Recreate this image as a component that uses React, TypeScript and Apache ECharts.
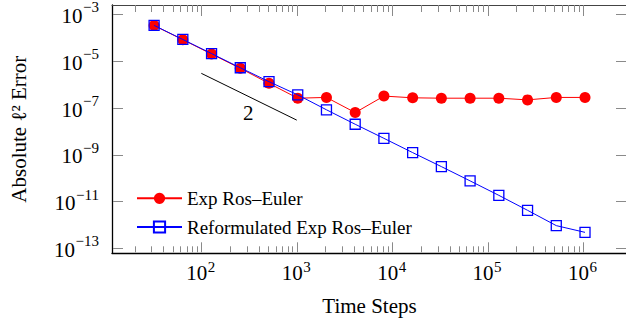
import React, { useEffect, useRef } from "react";
import * as echarts from "echarts";

// ---- data ----
const timeSteps = [32, 64, 128, 256, 512, 1024, 2048, 4096, 8192, 16384, 32768, 65536, 131072, 262144, 524288, 1048576];
const expRosEuler = [3.3e-4, 8.2e-5, 2.0e-5, 4.9e-6, 1.12e-6, 2.6e-7, 2.8e-7, 6.3e-8, 3.2e-7, 2.7e-7, 2.6e-7, 2.6e-7, 2.6e-7, 2.2e-7, 2.8e-7, 2.8e-7];
const reformulatedExpRosEuler = [3.35e-4, 8.4e-5, 2.1e-5, 5.2e-6, 1.32e-6, 3.6e-7, 8.3e-8, 2.0e-8, 5.0e-9, 1.23e-9, 3.1e-10, 7.6e-11, 1.83e-11, 4.2e-12, 9.3e-13, 4.8e-13];
const seriesNames = ["Exp Ros\u2013Euler", "Reformulated Exp Ros\u2013Euler"];
const slopeX = [100, 1000];
const slopeY = [3e-6, 3e-8];
const slopeText = "2";
const slopeTextAt = [311, 6e-8];
const xMajorExponents = [2, 3, 4, 5, 6];
const xMinorDecades = [1, 2, 3, 4, 5];
const xMinorMultipliers = [2, 3, 4, 5, 6, 7, 8, 9];
const yMajorExponents = [-3, -5, -7, -9, -11, -13];

// ---- axis ranges in log10 space ----
const X_MIN = 1.064;
const X_MAX = 6.4606;
const Y_MIN = -13.2137;
const Y_MAX = -2.6026;

const SERIF = '"Liberation Serif", "Times New Roman", serif';
const TICK_COLOR = "#8a8a8a";
const FRAME_COLOR = "#444444";

const lg = (v: number) => Math.log10(v);
const sup = (e: number) => (e < 0 ? "\u2212" + Math.abs(e) : String(e));

let measureCtx: CanvasRenderingContext2D | null = null;
function measure(text: string, font: string): number {
  if (!measureCtx) measureCtx = document.createElement("canvas").getContext("2d");
  if (!measureCtx) return text.length * 8;
  measureCtx.font = font;
  return measureCtx.measureText(text).width;
}

export default function App() {
  const ref = useRef<HTMLDivElement>(null);

  useEffect(() => {
    if (!ref.current) return;
    const chart = echarts.init(ref.current, null, { renderer: "svg" });

    const redData = timeSteps.map((t, i) => [lg(t), lg(expRosEuler[i])]);
    const blueData = timeSteps.map((t, i) => [lg(t), lg(reformulatedExpRosEuler[i])]);
    const slopeData = slopeX.map((x, i) => [lg(x), lg(slopeY[i])]);

    const decor: number[][] = [];
    xMajorExponents.forEach((e) => decor.push([e, Y_MIN, 0, e]));
    xMinorDecades.forEach((d) => xMinorMultipliers.forEach((m) => decor.push([d + lg(m), Y_MIN, 1, 0])));
    yMajorExponents.forEach((e) => decor.push([X_MIN, e, 2, e]));
    decor.push([lg(slopeTextAt[0]), lg(slopeTextAt[1]), 3, 0]);

    const baseFont = 21;
    const supFont = 15;

    const renderItem = (params: any, api: any) => {
      const cs = params.coordSys;
      const L = cs.x;
      const T = cs.y;
      const R = cs.x + cs.width;
      const B = cs.y + cs.height;
      const kind = api.value(2);
      const e = api.value(3);
      const p = api.coord([api.value(0), api.value(1)]);
      const ts = { stroke: TICK_COLOR, lineWidth: 1 };
      const ch: any[] = [];
      if (kind === 0 || kind === 1) {
        const len = kind === 0 ? 11 : 7;
        const x = Math.round(p[0]) + 0.5;
        ch.push({ type: "line", silent: true, shape: { x1: x, y1: B - 1, x2: x, y2: B - len }, style: ts });
        ch.push({ type: "line", silent: true, shape: { x1: x, y1: T, x2: x, y2: T + len }, style: ts });
        if (kind === 0) {
          ch.push({
            type: "text", silent: true, x: p[0] + 6, y: B + 20,
            style: { text: "10", align: "right", verticalAlign: "middle", fontSize: baseFont, fontFamily: SERIF, fill: "#000" },
          });
          ch.push({
            type: "text", silent: true, x: p[0] + 6.5, y: B + 13.5,
            style: { text: sup(e), align: "left", verticalAlign: "middle", fontSize: supFont, lineHeight: 12, fontFamily: SERIF, fill: "#000" },
          });
        }
      } else if (kind === 2) {
        const y = Math.round(p[1]) + 0.5;
        ch.push({ type: "line", silent: true, shape: { x1: L + 1, y1: y, x2: L + 11, y2: y }, style: ts });
        ch.push({ type: "line", silent: true, shape: { x1: R, y1: y, x2: R - 11, y2: y }, style: ts });
        const st = sup(e);
        const right = L - 13;
        const w = measure(st, `${supFont}px ${SERIF}`);
        ch.push({
          type: "text", silent: true, x: right, y: p[1] - 6.8,
          style: { text: st, align: "right", verticalAlign: "middle", fontSize: supFont, lineHeight: 12, fontFamily: SERIF, fill: "#000" },
        });
        ch.push({
          type: "text", silent: true, x: right - w - 0.5, y: p[1] + 1.7,
          style: { text: "10", align: "right", verticalAlign: "middle", fontSize: baseFont, fontFamily: SERIF, fill: "#000" },
        });
      } else if (kind === 3) {
        ch.push({
          type: "text", silent: true, x: p[0], y: p[1],
          style: { text: slopeText, align: "center", verticalAlign: "middle", fontSize: baseFont, fontFamily: SERIF, fill: "#000" },
        });
      }
      return { type: "group", children: ch };
    };

    const hiddenAxisParts = {
      axisTick: { show: false },
      axisLabel: { show: false },
      splitLine: { show: false },
    };

    chart.setOption({
      animation: false,
      backgroundColor: "#fff",
      grid: { left: 111.5, top: 5, width: 515.5, height: 248.3, containLabel: false },
      xAxis: [
        {
          type: "value", position: "bottom", min: X_MIN, max: X_MAX,
          axisLine: { show: true, onZero: false, lineStyle: { color: "#000", width: 1.3 } },
          ...hiddenAxisParts,
          name: "Time Steps", nameLocation: "middle", nameGap: 52.5,
          nameTextStyle: { fontFamily: SERIF, fontSize: 21, color: "#000", verticalAlign: "middle", align: "center" },
        },
        {
          type: "value", position: "top", min: X_MIN, max: X_MAX,
          axisLine: { show: true, onZero: false, lineStyle: { color: FRAME_COLOR, width: 1 } },
          ...hiddenAxisParts,
        },
      ],
      yAxis: [
        {
          type: "value", position: "left", min: Y_MIN, max: Y_MAX,
          axisLine: { show: true, onZero: false, lineStyle: { color: "#000", width: 1.3 } },
          ...hiddenAxisParts,
          name: "Absolute \u2113\u00b2 Error", nameLocation: "middle", nameGap: 93.5, nameRotate: 90,
          nameTextStyle: { fontFamily: SERIF, fontSize: 21, color: "#000", verticalAlign: "middle", align: "center" },
        },
        {
          type: "value", position: "right", min: Y_MIN, max: Y_MAX,
          axisLine: { show: true, onZero: false, lineStyle: { color: FRAME_COLOR, width: 1 } },
          ...hiddenAxisParts,
        },
      ],
      legend: {
        show: true,
        data: seriesNames,
        orient: "vertical",
        left: 136,
        top: 188.3,
        padding: 0,
        itemWidth: 45,
        itemHeight: 14,
        itemGap: 8.7,
        selectedMode: false,
        textStyle: { fontFamily: SERIF, fontSize: 19, lineHeight: 20, color: "#000" },
      },
      series: [
        {
          type: "line",
          name: "slope",
          data: slopeData,
          xAxisIndex: 0,
          yAxisIndex: 0,
          symbol: "none",
          lineStyle: { color: "#000", width: 1 },
          silent: true,
          z: 1,
        },
        {
          type: "line",
          name: seriesNames[0],
          data: redData,
          xAxisIndex: 0,
          yAxisIndex: 0,
          symbol: "circle",
          symbolSize: 11,
          itemStyle: { color: "#ff0000" },
          lineStyle: { color: "#ff0000", width: 1 },
          emphasis: { disabled: true },
          z: 2,
        },
        {
          type: "line",
          name: seriesNames[1],
          data: blueData,
          xAxisIndex: 0,
          yAxisIndex: 0,
          symbol: "rect",
          symbolSize: 10,
          itemStyle: { color: "rgba(255,255,255,0)", borderColor: "#0000ff", borderWidth: 1.3 },
          lineStyle: { color: "#0000ff", width: 1 },
          emphasis: { disabled: true },
          z: 3,
        },
        {
          type: "custom",
          name: "axisDecor",
          xAxisIndex: 0,
          yAxisIndex: 0,
          data: decor,
          renderItem,
          silent: true,
          clip: false,
          z: 4,
        },
      ],
    });

    return () => chart.dispose();
  }, []);

  return (
    <div style={{ position: "fixed", left: 0, top: 0, width: 626, height: 327, overflow: "hidden", background: "#fff" }}>
      <div ref={ref} style={{ width: 640, height: 327 }} />
    </div>
  );
}
